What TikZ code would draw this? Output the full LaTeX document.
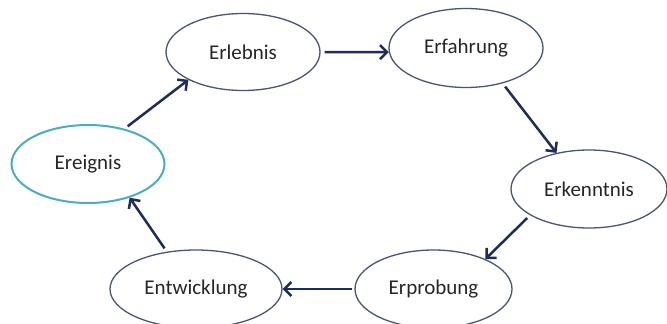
\documentclass[tikz,border=0pt]{standalone}
\usepackage{fontspec}
\setmainfont{Carlito}
\usetikzlibrary{shapes.geometric,arrows.meta}
\definecolor{ringcol}{HTML}{4A5670}
\definecolor{startcol}{HTML}{4BACC6}
\definecolor{arrcol}{HTML}{1F2B5B}
\definecolor{txtcol}{HTML}{262626}
\tikzset{
  stage/.style={ellipse, draw=ringcol, line width=1.3pt, fill=white, inner sep=0pt,
    text=txtcol, font=\fontsize{21}{24}\selectfont},
  startstage/.style={stage, draw=startcol, line width=2pt},
  flow/.style={draw=arrcol, line width=2.5pt, -{Straight Barb[length=7pt,width=14pt,line width=2.5pt]}},
}
\begin{document}
\begin{tikzpicture}[x=1pt,y=-1pt]
\useasboundingbox[fill=white] (0,0) rectangle (667,324);
\node[stage, minimum width=154pt, minimum height=77pt] (erlebnis) at (243,52) {Erlebnis};
\node[stage, minimum width=154pt, minimum height=79pt] (erfahrung) at (466,48) {Erfahrung};
\node[stage, minimum width=156pt, minimum height=78pt] (erkenntnis) at (589,189) {Erkenntnis};
\node[stage, minimum width=157pt, minimum height=78pt] (erprobung) at (433.5,289) {Erprobung};
\node[stage, minimum width=172pt, minimum height=78pt] (entwicklung) at (196,289) {Entwicklung};
\node[startstage, minimum width=153pt, minimum height=78pt] (ereignis) at (88,164) {Ereignis};
\draw[flow, shorten <=4pt] (ereignis.44) -- (erlebnis.207);
\draw[flow, shorten <=4pt] (erlebnis.east) -- (erfahrung.183);
\draw[flow, shorten <=4pt] (erfahrung.-44) -- (erkenntnis.132);
\draw[flow, shorten <=4pt] (erkenntnis.204) -- (erprobung.30);
\draw[flow, shorten <=2pt] (erprobung.west) -- (entwicklung.east);
\draw[flow, shorten <=4pt] (entwicklung.128) -- (ereignis.-39);
\end{tikzpicture}
\end{document}
